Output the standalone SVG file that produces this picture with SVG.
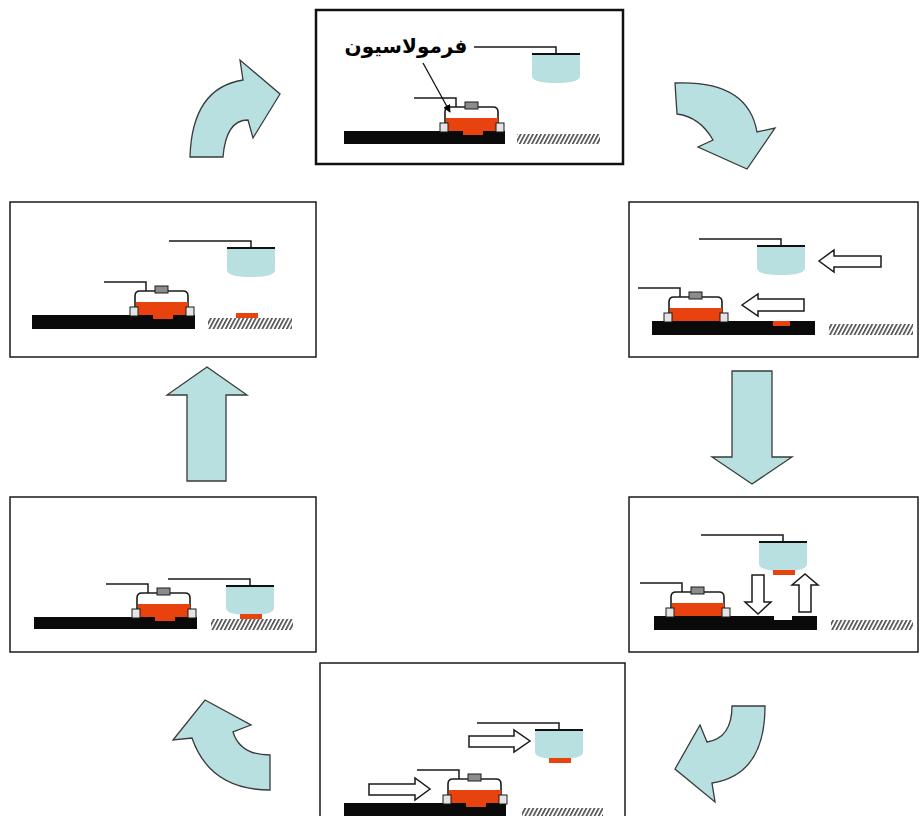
<svg xmlns="http://www.w3.org/2000/svg" width="921" height="816" viewBox="0 0 921 816">
  <style>
    .panel { fill: #ffffff; stroke: #1a1a1a; stroke-width: 1.5; }
    .base { fill: #0a0a0a; }
    .ground { fill: url(#hatch); }
    .red { fill: #e8430f; }
    .wire { fill: none; stroke: #1a1a1a; stroke-width: 1.5; }
    .cap { fill: #ffffff; stroke: #1a1a1a; stroke-width: 1.6; }
    .conn { fill: #8c8c8c; stroke: #1a1a1a; stroke-width: 1; }
    .pad { fill: #e4e4e4; stroke: #1a1a1a; stroke-width: 1; }
    .cup { fill: #b9e0e1; }
    .move { fill: #ffffff; stroke: #1a1a1a; stroke-width: 1.5; stroke-linejoin: miter; }
    .flow { fill: #b9e0e1; stroke: #3a3a3a; stroke-width: 1.3; stroke-linejoin: miter; }
    .label { font-family: "DejaVu Sans", "Noto Sans", sans-serif; font-weight: bold; font-size: 20px; fill: #000; }
  </style>
  <defs>
    <!-- slanted hatching for the fixed ground -->
    <pattern id="hatch" patternUnits="userSpaceOnUse" width="3.6" height="10" patternTransform="rotate(28)">
      <rect x="0" y="0" width="1.6" height="10" fill="#4a4a4a"/>
    </pattern>
    <marker id="tip" viewBox="0 0 10 10" refX="9" refY="5" markerWidth="6" markerHeight="6" orient="auto">
      <path d="M0,0 L10,5 L0,10 Z" fill="#000"/>
    </marker>
    <!-- chip carrier: origin at left pad, on top of the substrate -->
    <g id="dev">
      <path class="wire" d="M-26,-33 H16 V-24"/>
      <path class="cap" d="M5,-7 V-19 Q5,-24 10,-24 H53 Q58,-24 58,-19 V-7"/>
      <rect class="red" x="6" y="-13" width="52" height="13"/>
      <rect class="conn" x="25" y="-29" width="13" height="7"/>
      <rect class="pad" x="0" y="-8" width="8" height="9"/>
      <rect class="pad" x="56" y="-8" width="8" height="9"/>
    </g>
    <rect id="bump" class="red" x="23" y="-1" width="20" height="5"/>
    <!-- pick-up head: origin at top-left corner -->
    <g id="tool">
      <path class="wire" d="M-58,-7 H24 V0"/>
      <path class="cup" d="M0,0 H48 V22 Q48,29 24,29 Q0,29 0,22 Z"/>
      <line x1="0" y1="0" x2="48" y2="0" stroke="#111" stroke-width="2"/>
    </g>
    <rect id="drop" class="red" x="14" y="28" width="22" height="5"/>
  </defs>

  <!-- step 1 -->
  <g id="step1">
    <rect x="316" y="10" width="307" height="154" fill="#fff" stroke="#111" stroke-width="2.5"/>
    <rect class="base" x="344" y="131" width="161" height="13"/>
    <rect class="ground" x="517" y="134" width="83" height="10"/>
    <use href="#dev" x="440" y="131"/>
    <use href="#bump" x="440" y="131"/>
    <use href="#tool" x="532" y="54"/>
    <text class="label" x="406" y="53" text-anchor="middle">فرمولاسیون</text>
    <line x1="423" y1="63" x2="450" y2="112" stroke="#111" stroke-width="1.3" marker-end="url(#tip)"/>
  </g>

  <!-- step 2 -->
  <g id="step2">
    <rect class="panel" x="629" y="202" width="289" height="155"/>
    <rect class="base" x="652" y="321" width="163" height="14"/>
    <rect class="red" x="773" y="321" width="17" height="5"/>
    <rect class="ground" x="829" y="324" width="84" height="11"/>
    <use href="#dev" x="664" y="321"/>
    <use href="#tool" x="757" y="246"/>
    <polygon class="move" points="819,261 834,250 834,256 881,256 881,267 834,267 834,272"/>
    <polygon class="move" points="742,305 758,294 758,299 804,299 804,311 758,311 758,316"/>
  </g>

  <!-- step 3 -->
  <g id="step3">
    <rect class="panel" x="629" y="497" width="289" height="155"/>
    <rect class="base" x="654" y="616" width="163" height="14"/>
    <rect x="774" y="616" width="18" height="4" fill="#fff"/>
    <rect class="ground" x="831" y="620" width="82" height="10"/>
    <use href="#dev" x="666" y="616"/>
    <use href="#tool" x="759" y="542"/>
    <use href="#drop" x="759" y="542"/>
    <polygon class="move" points="752,575 764,575 764,602 771,602 758,614 745,602 752,602"/>
    <polygon class="move" points="799,612 811,612 811,585 818,585 805,574 792,585 799,585"/>
  </g>

  <!-- step 4 -->
  <g id="step4">
    <rect class="panel" x="320" y="663" width="305" height="170"/>
    <rect class="base" x="344" y="803" width="162" height="20"/>
    <rect class="ground" x="522" y="808" width="81" height="10"/>
    <use href="#dev" x="443" y="803"/>
    <use href="#bump" x="443" y="803"/>
    <use href="#tool" x="535" y="730"/>
    <use href="#drop" x="535" y="730"/>
    <polygon class="move" points="469,736 514,736 514,730 530,741 514,752 514,747 469,747"/>
    <polygon class="move" points="369,784 415,784 415,778 430,789 415,800 415,795 369,795"/>
  </g>

  <!-- step 5 -->
  <g id="step5">
    <rect class="panel" x="10" y="497" width="306" height="155"/>
    <rect class="base" x="34" y="617" width="163" height="12"/>
    <rect class="ground" x="211" y="619" width="82" height="11"/>
    <use href="#dev" x="132" y="617"/>
    <use href="#bump" x="132" y="617"/>
    <use href="#tool" x="226" y="586"/>
    <use href="#drop" x="226" y="586"/>
  </g>

  <!-- step 6 -->
  <g id="step6">
    <rect class="panel" x="10" y="202" width="306" height="155"/>
    <rect class="base" x="32" y="315" width="163" height="14"/>
    <rect class="ground" x="208" y="318" width="84" height="11"/>
    <rect class="red" x="236" y="313" width="22" height="5"/>
    <use href="#dev" x="130" y="315"/>
    <use href="#bump" x="130" y="315"/>
    <use href="#tool" x="227" y="248"/>
  </g>

  <!-- process flow arrows -->
  <g id="connectors">
    <path class="flow" d="M675,83 Q748,80 757,132 L775,128 L747,169 L698,147 L713,140 Q700,117 677,114 Z"/>
    <polygon class="flow" points="732,371 772,371 772,457 792,457 752,484 712,457 732,457"/>
    <path class="flow" d="M732,706 H765 Q765,775 712,783 L715,802 L675,769 L700,725 L707,742 Q732,738 732,706 Z"/>
    <path class="flow" d="M270,790 Q210,790 192,738 L173,740 L205,700 L251,725 L233,732 Q240,755 270,755 Z"/>
    <polygon class="flow" points="207,367 247,395 226,395 226,481 187,481 187,395 167,395"/>
    <path class="flow" d="M190,157 Q192,88 243,80 L240,60 L280,94 L253,138 L248,120 Q226,120 223,157 Z"/>
  </g>
</svg>
